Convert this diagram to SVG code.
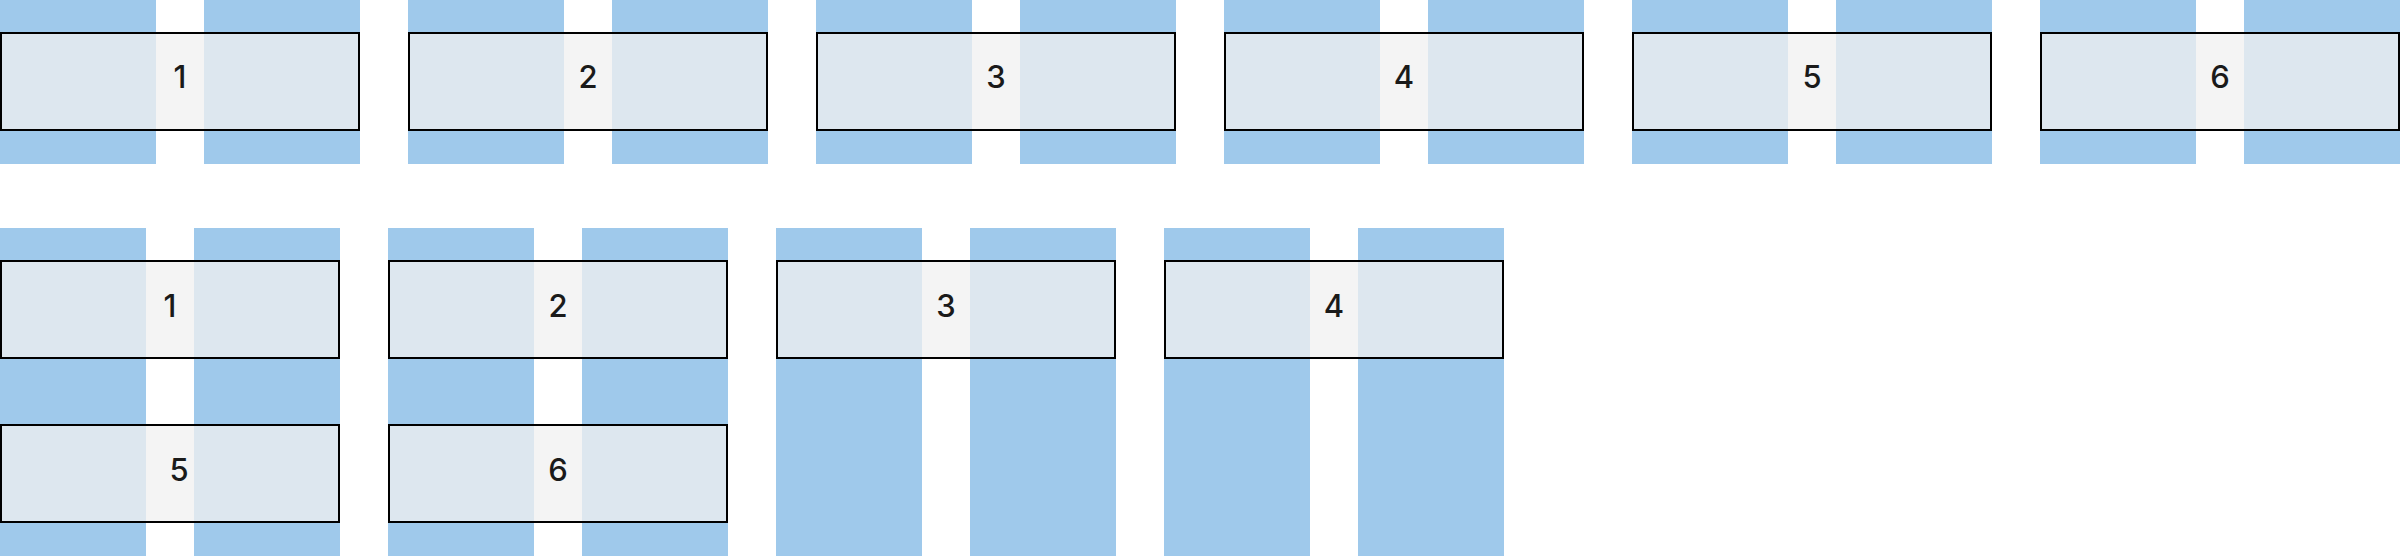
<svg xmlns="http://www.w3.org/2000/svg" width="2400" height="556" viewBox="0 0 2400 556">
<style>
.col{fill:#9fc9eb}
.box{fill:#f0f0f0;fill-opacity:0.76;stroke:#000;stroke-width:2}
.lbl{font-family:Inter,"DejaVu Sans",sans-serif;font-size:31px;font-weight:500;fill:#1a1a1a;text-anchor:middle}
</style>
<rect width="2400" height="556" fill="#fff"/>
<g id="columns-top">
<rect class="col" x="0" y="0" width="156" height="164"/><rect class="col" x="204" y="0" width="156" height="164"/>
<rect class="col" x="408" y="0" width="156" height="164"/><rect class="col" x="612" y="0" width="156" height="164"/>
<rect class="col" x="816" y="0" width="156" height="164"/><rect class="col" x="1020" y="0" width="156" height="164"/>
<rect class="col" x="1224" y="0" width="156" height="164"/><rect class="col" x="1428" y="0" width="156" height="164"/>
<rect class="col" x="1632" y="0" width="156" height="164"/><rect class="col" x="1836" y="0" width="156" height="164"/>
<rect class="col" x="2040" y="0" width="156" height="164"/><rect class="col" x="2244" y="0" width="156" height="164"/>
</g>
<g id="columns-bottom">
<rect class="col" x="0" y="228" width="146" height="328"/><rect class="col" x="194" y="228" width="146" height="328"/>
<rect class="col" x="388" y="228" width="146" height="328"/><rect class="col" x="582" y="228" width="146" height="328"/>
<rect class="col" x="776" y="228" width="146" height="328"/><rect class="col" x="970" y="228" width="146" height="328"/>
<rect class="col" x="1164" y="228" width="146" height="328"/><rect class="col" x="1358" y="228" width="146" height="328"/>
</g>
<g id="connectors"></g>
<g id="t1"><rect class="box" x="1" y="33" width="358" height="97"/><text class="lbl" x="180" y="88">1</text></g>
<g id="t2"><rect class="box" x="409" y="33" width="358" height="97"/><text class="lbl" x="588" y="88">2</text></g>
<g id="t3"><rect class="box" x="817" y="33" width="358" height="97"/><text class="lbl" x="996" y="88">3</text></g>
<g id="t4"><rect class="box" x="1225" y="33" width="358" height="97"/><text class="lbl" x="1404" y="88">4</text></g>
<g id="t5"><rect class="box" x="1633" y="33" width="358" height="97"/><text class="lbl" x="1812" y="88">5</text></g>
<g id="t6"><rect class="box" x="2041" y="33" width="358" height="97"/><text class="lbl" x="2220" y="88">6</text></g>
<g id="b1"><rect class="box" x="1" y="261" width="338" height="97"/><text class="lbl" x="170" y="317">1</text></g>
<g id="b2"><rect class="box" x="389" y="261" width="338" height="97"/><text class="lbl" x="558" y="317">2</text></g>
<g id="b3"><rect class="box" x="777" y="261" width="338" height="97"/><text class="lbl" x="946" y="317">3</text></g>
<g id="b4"><rect class="box" x="1165" y="261" width="338" height="97"/><text class="lbl" x="1334" y="317">4</text></g>
<g id="b5"><rect class="box" x="1" y="425" width="338" height="97"/><text class="lbl" x="179" y="481">5</text></g>
<g id="b6"><rect class="box" x="389" y="425" width="338" height="97"/><text class="lbl" x="558" y="481">6</text></g>
</svg>
